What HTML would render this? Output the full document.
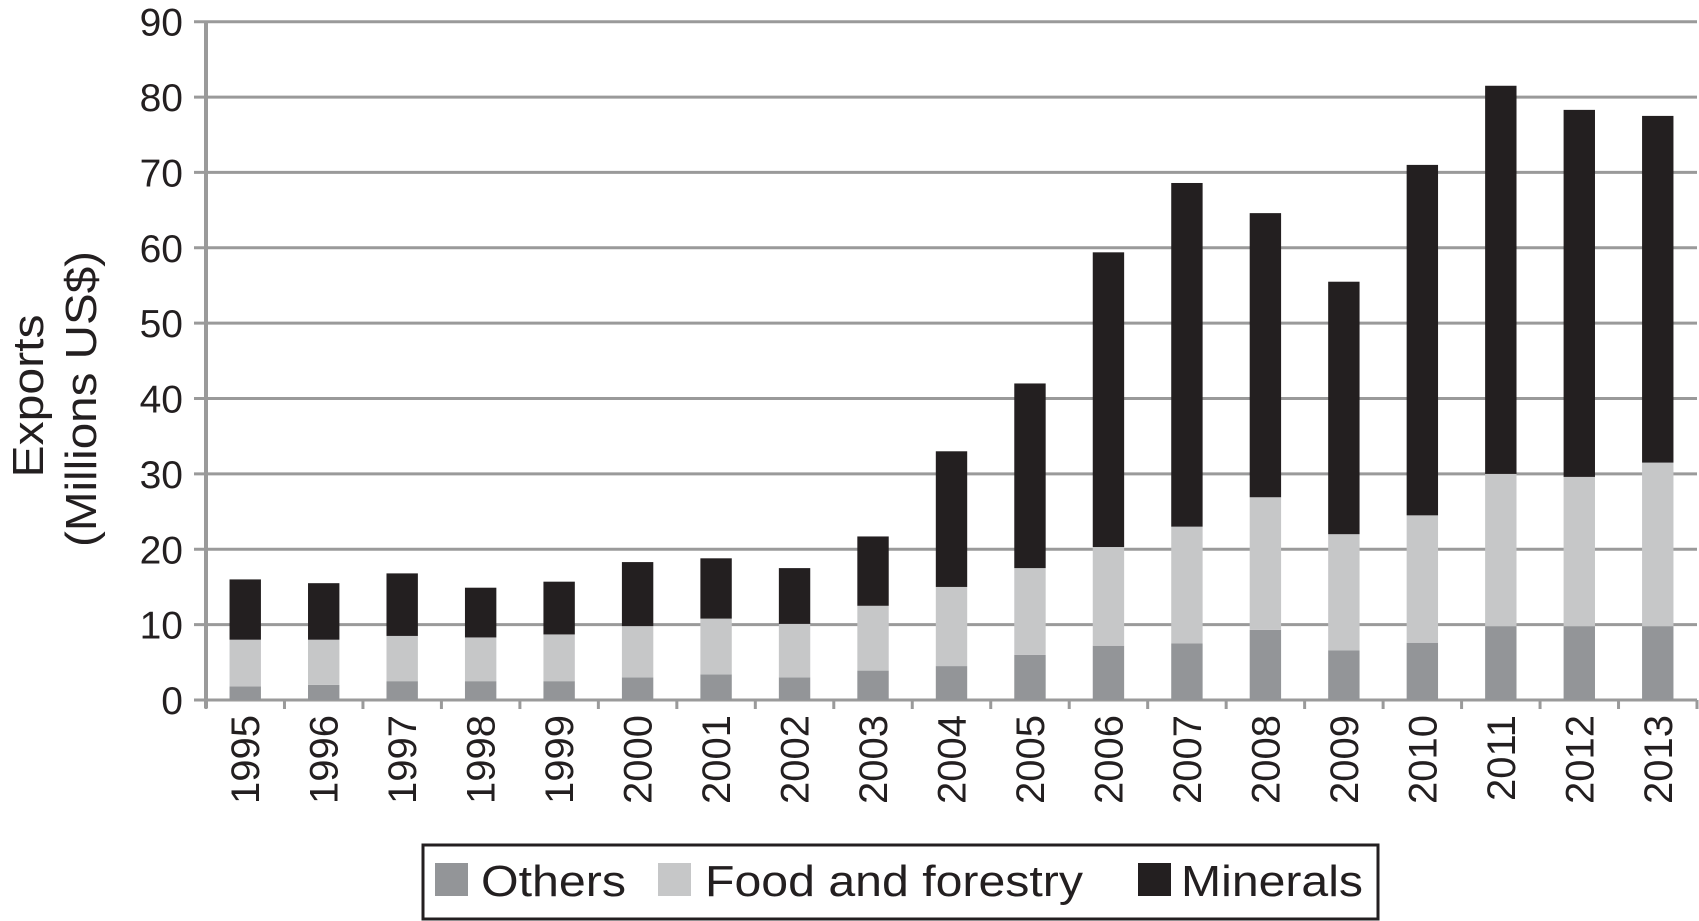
<!DOCTYPE html>
<html><head><meta charset="utf-8"><style>
html,body{margin:0;padding:0;background:#fff;}
svg{display:block;font-family:"Liberation Sans",Arial,sans-serif;}
</style></head><body>
<svg id="chart" width="1699" height="921" viewBox="0 0 1699 921"></svg>
<script>
const years=["1995","1996","1997","1998","1999","2000","2001","2002","2003","2004","2005","2006","2007","2008","2009","2010","2011","2012","2013"];
const others=[1.8,2,2.5,2.5,2.5,3,3.4,3,3.9,4.5,6,7.2,7.5,9.3,6.6,7.6,9.8,9.8,9.8];
const food=[6.2,6,6,5.8,6.2,6.8,7.4,7.1,8.6,10.5,11.5,13.1,15.5,17.6,15.4,16.9,20.2,19.8,21.7];
const minerals=[8,7.5,8.3,6.6,7,8.5,8,7.4,9.2,18,24.5,39.1,45.6,37.7,33.5,46.5,51.5,48.7,46];
const yTicks=[0,10,20,30,40,50,60,70,80,90];
const seriesNames=["Others","Food and forestry","Minerals"];
const colors=["#939598","#c6c7c8","#231f20"];

const NS="http://www.w3.org/2000/svg";
const svg=document.getElementById('chart');
const L=206,R=1697,T=21.7,B=700,yMax=90;
const y=v=>B-(v/yMax)*(B-T);
const cw=(R-L)/years.length;
const x=i=>L+cw*i;
function mk(tag,attrs,parent){const e=document.createElementNS(NS,tag);for(const k in attrs)e.setAttribute(k,attrs[k]);(parent||svg).appendChild(e);return e;}

yTicks.forEach(t=>{
  const g=mk('line',{x1:L-12,x2:R,y1:y(t),y2:y(t),stroke:'#9a9a9a','stroke-width':3});
  
  
  const tx=mk('text',{x:183,y:y(t)+14,'text-anchor':'end','font-size':39,fill:'#231f20'});
  tx.textContent=t;
  
  
});
const ax=mk('line',{x1:L,x2:L,y1:T,y2:B+8,stroke:'#9a9a9a','stroke-width':4});


for(let i=0;i<=years.length;i++){
  const tk=mk('line',{x1:x(i),x2:x(i),y1:B,y2:B+9,stroke:'#9a9a9a','stroke-width':3});
  
  
}
const bw=cw*0.4;
years.forEach((yr,i)=>{
  const vals=[others[i],food[i],minerals[i]];
  let base=0;
  vals.forEach((v,s)=>{
    const r=mk('rect',{x:x(i)+(cw-bw)/2,y:y(base+v),width:bw,height:y(base)-y(base+v),fill:colors[s]});
    
    
    base+=v;
  });
  const cx=x(i)+cw/2;
  const t=mk('text',{x:0,y:0,transform:`translate(${cx+14},${715}) rotate(-90)`,'text-anchor':'end','font-size':40,fill:'#231f20'});
  t.textContent=yr;
  
  
});
const t1=mk('text',{transform:'translate(43,396) rotate(-90)','text-anchor':'middle','font-size':44,fill:'#231f20',textLength:163,lengthAdjust:'spacingAndGlyphs'});
t1.textContent='Exports';


const t2=mk('text',{transform:'translate(96,399) rotate(-90)','text-anchor':'middle','font-size':44,fill:'#231f20',textLength:296,lengthAdjust:'spacingAndGlyphs'});
t2.textContent='(Millions US$)';



const lg=mk('g',{});


const lb=mk('rect',{x:423,y:845,width:955,height:74,fill:'#fff',stroke:'#231f20','stroke-width':3},lg);


const lx=[435,658,1138];
const tx=[481,705,1181];
const tl=[145,378,182];
seriesNames.forEach((n,s)=>{
  const sw=mk('rect',{x:lx[s],y:863,width:33,height:33,fill:colors[s]},lg);
  
  
  const t=mk('text',{x:tx[s],y:896,'font-size':44,fill:'#231f20',textLength:tl[s],lengthAdjust:'spacingAndGlyphs'},lg);
  t.textContent=n;
  
  
});
</script>
</body></html>
